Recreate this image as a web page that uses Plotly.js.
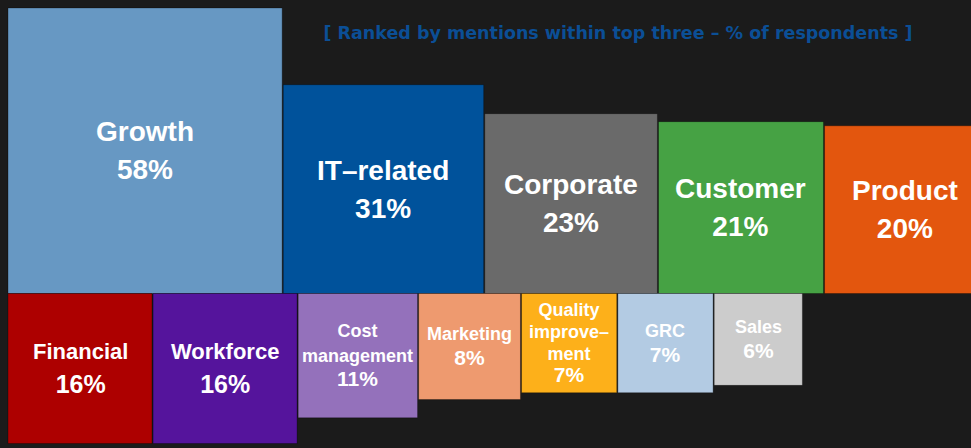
<!DOCTYPE html>
<html>
<head>
<meta charset="utf-8">
<script src="https://cdn.plot.ly/plotly-3.0.1.min.js"></script>
<style>html,body{margin:0;padding:0;background:#1b1b1b;}#chart{width:971px;height:448px;}</style>
</head>
<body>
<div id="chart"></div>
<script>
// ---- data ----
const topCategories = ['Growth', 'IT\u2013related', 'Corporate', 'Customer', 'Product'];
const topValues = [58, 31, 23, 21, 20];
const bottomCategories = ['Financial', 'Workforce', 'Cost<br>management', 'Marketing', 'Quality<br>improve\u2013<br>ment', 'GRC', 'Sales'];
const bottomValues = [16, 16, 11, 8, 7, 7, 6];
const titleText = '[ Ranked by mentions within top three \u2013 % of respondents ]';

// ---- styles ----
const topColors = ['#6798c3', '#00529b', '#6a6a6a', '#46a244', '#e3560e'];
const bottomColors = ['#ad0000', '#55149c', '#9471bb', '#ee9a6f', '#fdb01a', '#b3cbe3', '#cccccc'];
// base = annotation font size (sets line spacing); name / pct = span sizes
const topBaseSizes = [29, 29, 29, 29, 29];
const topNameSizes = [28, 28, 28, 28, 28];
const topPctSizes = [28, 28, 28, 28, 28];
const bottomBaseSizes = [26, 26, 19, 19, 17, 19, 19];
const bottomNameSizes = [22, 22, 18, 18, 18, 18, 18];
const bottomPctSizes = [25, 25, 21, 21, 21, 21, 21];
const gap = 0.03;

function layoutRow(values) {
  const sides = values.map(v => Math.sqrt(v));
  const centers = [];
  let pos = 0;
  sides.forEach(s => { centers.push(pos + s / 2); pos += s + gap; });
  return { sides, centers };
}
const topRow = layoutRow(topValues);
const bottomRow = layoutRow(bottomValues);

const traces = [
  {
    type: 'bar', x: topRow.centers, y: topRow.sides, width: topRow.sides, base: 0,
    marker: { color: topColors, line: { color: 'rgba(0,0,0,0.3)', width: 1 } },
    hoverinfo: 'none', showlegend: false
  },
  {
    type: 'bar', x: bottomRow.centers, y: bottomRow.sides.map(s => -s), width: bottomRow.sides, base: 0,
    marker: { color: bottomColors, line: { color: 'rgba(0,0,0,0.3)', width: 1 } },
    hoverinfo: 'none', showlegend: false
  }
];

const labelFont = 'Liberation Sans, Arial, sans-serif';
function label(x, y, name, value, baseSize, nameSize, pctSize) {
  return {
    x: x, y: y, xref: 'x', yref: 'y',
    text: '<b><span style="font-size:' + nameSize + 'px">' + name.split('<br>').join('</span><br><span style="font-size:' + nameSize + 'px">') +
          '</span><br><span style="font-size:' + pctSize + 'px">' + value + '%</span></b>',
    showarrow: false,
    font: { family: labelFont, size: baseSize, color: '#ffffff' },
    align: 'center', xanchor: 'center', yanchor: 'middle'
  };
}
const annotations = [];
topCategories.forEach((c, i) => {
  annotations.push(label(topRow.centers[i], topRow.sides[i] / 2, c, topValues[i], topBaseSizes[i], topNameSizes[i], topPctSizes[i]));
});
bottomCategories.forEach((c, i) => {
  annotations.push(label(bottomRow.centers[i], -bottomRow.sides[i] / 2, c, bottomValues[i], bottomBaseSizes[i], bottomNameSizes[i], bottomPctSizes[i]));
});

const layout = {
  width: 971, height: 448,
  margin: { l: 0, r: 0, t: 0, b: 0 },
  paper_bgcolor: '#1b1b1b', plot_bgcolor: '#1b1b1b',
  barmode: 'overlay',
  showlegend: false,
  title: {
    text: '<b>' + titleText + '</b>',
    font: { family: 'DejaVu Sans, sans-serif', size: 17.5, color: '#0b4f96' },
    x: 618 / 971, xanchor: 'center', xref: 'paper',
    y: 1 - 33 / 448, yanchor: 'middle', yref: 'container'
  },
  xaxis: { range: [-8 / 36, 963 / 36], visible: false, fixedrange: true },
  yaxis: { range: [-(448 - 293.5) / 37.5, 293.5 / 37.5], visible: false, fixedrange: true },
  annotations: annotations
};

Plotly.newPlot('chart', traces, layout, { displayModeBar: false, staticPlot: true });
</script>
</body>
</html>
